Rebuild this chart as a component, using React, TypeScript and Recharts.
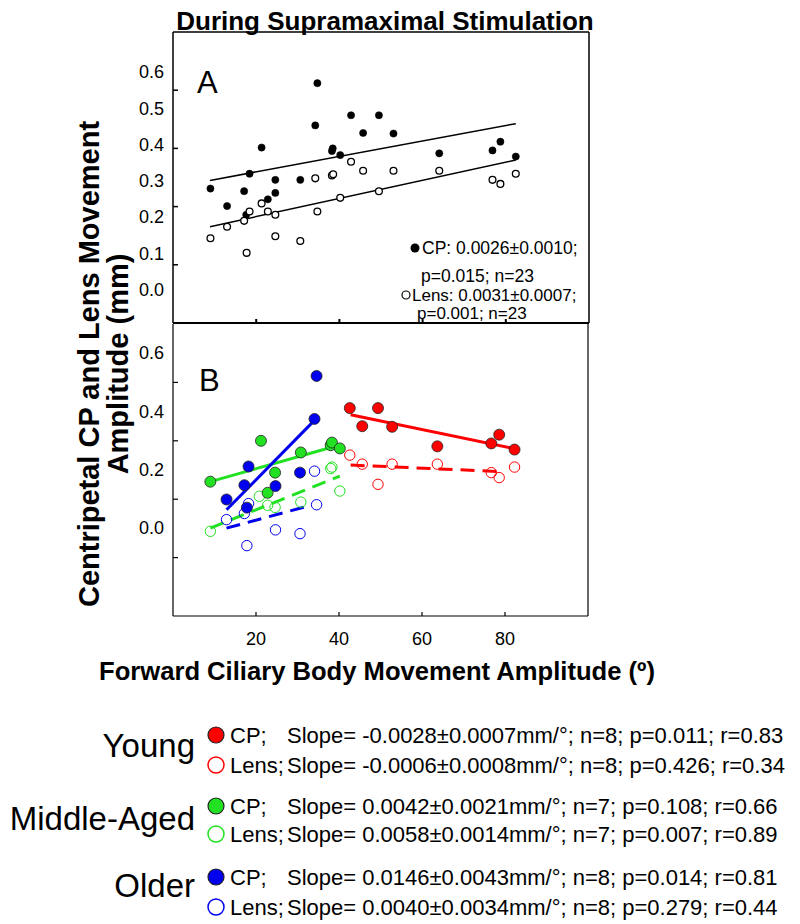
import React from 'react';
import {ReferenceLine, Scatter, ScatterChart, XAxis, YAxis} from 'recharts';

const FONT = 'Arial, "Liberation Sans", sans-serif';

// panel A: all animals pooled
const allCpX = [9.0, 13.0, 17.1, 17.6, 18.4, 21.3, 22.8, 24.6, 24.6, 30.6, 34.2, 34.7, 38.2, 38.4, 40.2, 42.8, 45.7, 49.5, 53.0, 64.0, 76.8, 78.7, 82.4];
const allCpY = [0.262, 0.202, 0.253, 0.172, 0.313, 0.403, 0.225, 0.292, 0.247, 0.292, 0.479, 0.624, 0.391, 0.400, 0.377, 0.514, 0.453, 0.514, 0.451, 0.383, 0.393, 0.423, 0.372];
const allLensX = [9.0, 13.0, 17.1, 17.7, 18.4, 21.3, 22.8, 24.6, 24.6, 30.6, 34.2, 34.7, 38.2, 38.5, 40.2, 42.8, 45.7, 49.5, 53.0, 64.0, 76.8, 78.7, 82.4];
const allLensY = [0.091, 0.131, 0.151, 0.041, 0.183, 0.211, 0.183, 0.172, 0.098, 0.082, 0.297, 0.183, 0.307, 0.311, 0.230, 0.354, 0.323, 0.253, 0.323, 0.323, 0.292, 0.278, 0.313];
const allCpFit = [[8.9, 0.290], [82.4, 0.485]];
const allLensFit = [[8.9, 0.131], [82.4, 0.360]];

// panel B: by age group
const youngX = [42.6, 45.6, 49.4, 52.8, 63.7, 76.7, 78.6, 82.3];
const youngCp = [0.512, 0.450, 0.512, 0.448, 0.381, 0.391, 0.421, 0.370];
const youngLens = [0.351, 0.320, 0.251, 0.320, 0.320, 0.291, 0.274, 0.310];
const middleCpX = [9.0, 21.2, 22.8, 24.6, 30.8, 38.0, 38.3, 40.2];
const middleCp = [0.260, 0.400, 0.222, 0.291, 0.360, 0.385, 0.394, 0.374];
const middleLensX = [9.0, 20.8, 22.8, 24.6, 30.8, 38.0, 38.3, 40.2];
const middleLens = [0.090, 0.210, 0.179, 0.172, 0.190, 0.305, 0.310, 0.228];
const olderX = [12.9, 17.2, 17.8, 18.2, 24.7, 30.6, 34.1, 34.6];
const olderCp = [0.199, 0.248, 0.171, 0.312, 0.245, 0.291, 0.475, 0.622];
const olderLens = [0.130, 0.151, 0.041, 0.185, 0.095, 0.082, 0.296, 0.181];

const youngCpFit = [[42.8, 0.489], [82.0, 0.374]];
const youngLensFit = [[42.8, 0.317], [79.6, 0.294]];
const middleCpFit = [[9.0, 0.260], [38.0, 0.377]];
const middleLensFit = [[9.0, 0.101], [40.2, 0.279]];
const olderCpFit = [[12.9, 0.164], [33.6, 0.463]];
const olderLensFit = [[12.9, 0.101], [33.2, 0.179]];

const xTicks = [20, 40, 60, 80];
const yTicks = [0, 0.2, 0.4, 0.6];
const aLabelTicks = [0, 0.1, 0.2, 0.3, 0.4, 0.5, 0.6];

const groups = ['Young', 'Middle-Aged', 'Older'];
const groupColors = ['#ff0000', '#22e022', '#0000ee'];
const cpStats = [
  'Slope= -0.0028±0.0007mm/°; n=8; p=0.011; r=0.83',
  'Slope= 0.0042±0.0021mm/°; n=7; p=0.108; r=0.66',
  'Slope= 0.0146±0.0043mm/°; n=8; p=0.014; r=0.81',
];
const lensStats = [
  'Slope= -0.0006±0.0008mm/°; n=8; p=0.426; r=0.34',
  'Slope= 0.0058±0.0014mm/°; n=7; p=0.007; r=0.89',
  'Slope= 0.0040±0.0034mm/°; n=8; p=0.279; r=0.44',
];

const pts = (xs: number[], ys: number[]) => xs.map((x, i) => ({x, y: ys[i]}));
const seg = (f: number[][]) => [{x: f[0][0], y: f[0][1]}, {x: f[1][0], y: f[1][1]}];

const dot = (r: number, fill: string, stroke: string, sw: number) => (p: any) =>
  <circle cx={p.cx} cy={p.cy} r={r} fill={fill} stroke={stroke} strokeWidth={sw}/>;

// tick marks only, no text
const noTick = () => <g/>;

const LBLW = 40;
const labelTick = (p: any) => (
  <text x={p.x} y={p.y} dy={6} textAnchor="end" fontSize={18} fontFamily={FONT} fill="#000">
    {p.payload.value.toFixed(1)}
  </text>
);

const PanelA = () => (
  <ScatterChart width={800} height={330} margin={{top: 32, right: 211, bottom: 6, left: 173 - 1 - LBLW}}>
    <XAxis type="number" dataKey="x" domain={[0, 100]} ticks={xTicks} tick={noTick} tickSize={-4}
           height={1} stroke="#000" strokeWidth={2} allowDataOverflow/>
    <YAxis type="number" dataKey="y" domain={[-0.2, 0.8]} ticks={yTicks} tick={noTick} tickSize={-5}
           width={1} stroke="#000" strokeWidth={1.5} allowDataOverflow/>
    <YAxis yAxisId="lbl" type="number" domain={[-0.091, 0.711]} ticks={aLabelTicks} width={LBLW}
           axisLine={false} tickLine={false} tickSize={0} tickMargin={8} tick={labelTick} allowDataOverflow/>
    <ReferenceLine y={0.8} stroke="#000" strokeWidth={1.5}/>
    <ReferenceLine x={100} stroke="#000" strokeWidth={1.5}/>
    <ReferenceLine segment={seg(allCpFit)} stroke="#000" strokeWidth={1.5}/>
    <ReferenceLine segment={seg(allLensFit)} stroke="#000" strokeWidth={1.5}/>
    <Scatter data={pts(allCpX, allCpY)} shape={dot(3.6, '#000', '#000', 0.5)} isAnimationActive={false}/>
    <Scatter data={pts(allLensX, allLensY)} shape={dot(3.4, '#fff', '#000', 1.3)} isAnimationActive={false}/>
  </ScatterChart>
);

const PanelB = () => {
  const cps = [pts(youngX, youngCp), pts(middleCpX, middleCp), pts(olderX, olderCp)];
  const lenses = [pts(youngX, youngLens), pts(middleLensX, middleLens), pts(olderX, olderLens)];
  const cpFits = [youngCpFit, middleCpFit, olderCpFit];
  const lensFits = [youngLensFit, middleLensFit, olderLensFit];
  return (
    <ScatterChart width={800} height={340} margin={{top: 4, right: 212, bottom: 14, left: 173 - 1 - LBLW}}>
      <XAxis type="number" dataKey="x" domain={[0, 100]} ticks={xTicks} tickSize={-4} tickMargin={20}
             height={30} stroke="#000" strokeWidth={1.2} tick={{fill: '#000', fontSize: 18, fontFamily: FONT}}
             fontSize={18} allowDataOverflow/>
      <YAxis type="number" dataKey="y" domain={[-0.2, 0.8]} ticks={yTicks} tick={noTick} tickSize={-5}
             width={1} stroke="#000" strokeWidth={1.2} allowDataOverflow/>
      <YAxis yAxisId="lbl" type="number" domain={[-0.3, 0.7]} ticks={yTicks} width={LBLW}
             axisLine={false} tickLine={false} tickSize={0} tickMargin={8} tick={labelTick} allowDataOverflow/>
      <ReferenceLine x={100} stroke="#000" strokeWidth={1.2}/>
      {groups.map((g, i) => (
        <ReferenceLine key={g + 'l'} segment={seg(lensFits[i])} stroke={groupColors[i]} strokeWidth={3}
                       strokeDasharray="14 8"/>
      ))}
      {groups.map((g, i) => (
        <Scatter key={g + 'ls'} data={lenses[i]} shape={dot(5.2, 'none', groupColors[i], 1)} isAnimationActive={false}/>
      ))}
      {groups.map((g, i) => (
        <ReferenceLine key={g + 'c'} segment={seg(cpFits[i])} stroke={groupColors[i]} strokeWidth={3}/>
      ))}
      {groups.map((g, i) => (
        <Scatter key={g + 'cs'} data={cps[i]} shape={dot(5.5, groupColors[i], '#222', 0.8)} isAnimationActive={false}/>
      ))}
    </ScatterChart>
  );
};

const legendRows = [
  {cpY: 735, lensY: 765, labelY: 757},
  {cpY: 806, lensY: 834, labelY: 830},
  {cpY: 877, lensY: 907, labelY: 897},
];

const Overlay = () => (
  <svg width={800} height={924} style={{position: 'absolute', left: 0, top: 0}} fontFamily={FONT}>
    <text x={385} y={30} textAnchor="middle" fontSize={26} fontWeight="bold">During Supramaximal Stimulation</text>
    <text x={197} y={93} fontSize={31}>A</text>
    <text x={199} y={391} fontSize={31}>B</text>

    <circle cx={415} cy={248} r={4.5} fill="#000"/>
    <text x={422} y={254} fontSize={17.5}>CP: 0.0026±0.0010;</text>
    <text x={421} y={282} fontSize={17.5}>p=0.015; n=23</text>
    <circle cx={406} cy={295} r={4} fill="#fff" stroke="#000" strokeWidth={1.2}/>
    <text x={412} y={301} fontSize={17}>Lens: 0.0031±0.0007;</text>
    <text x={417} y={318.5} fontSize={17}>p=0.001; n=23</text>

    <g transform="rotate(-90)" fontSize={29} fontWeight="bold" textAnchor="middle">
      <text x={-364} y={99}>Centripetal CP  and Lens Movement</text>
      <text x={-364} y={128}>Amplitude (mm)</text>
    </g>
    <text x={377} y={680} textAnchor="middle" fontSize={25.6} fontWeight="bold">
      Forward Ciliary Body Movement Amplitude (º)
    </text>

    {groups.map((g, i) => (
      <g key={g}>
        <text x={195} y={legendRows[i].labelY} textAnchor="end" fontSize={33}>{g}</text>
        <circle cx={216} cy={legendRows[i].cpY} r={8} fill={groupColors[i]} stroke="#222" strokeWidth={1.2}/>
        <text x={230} y={legendRows[i].cpY + 7.5} fontSize={22}>CP;</text>
        <text x={287} y={legendRows[i].cpY + 7.5} fontSize={22}>{cpStats[i]}</text>
        <circle cx={216} cy={legendRows[i].lensY} r={8} fill="#fff" stroke={groupColors[i]} strokeWidth={1.5}/>
        <text x={230} y={legendRows[i].lensY + 7.5} fontSize={22}>Lens;</text>
        <text x={287} y={legendRows[i].lensY + 7.5} fontSize={22}>{lensStats[i]}</text>
      </g>
    ))}
  </svg>
);

const App = () => (
  <div style={{position: 'absolute', left: 0, top: 0, width: 800, height: 924, background: '#fff', fontFamily: FONT}}>
    <div style={{position: 'absolute', left: 0, top: 0}}><PanelA/></div>
    <div style={{position: 'absolute', left: 0, top: 320}}><PanelB/></div>
    <Overlay/>
  </div>
);

export default App;
